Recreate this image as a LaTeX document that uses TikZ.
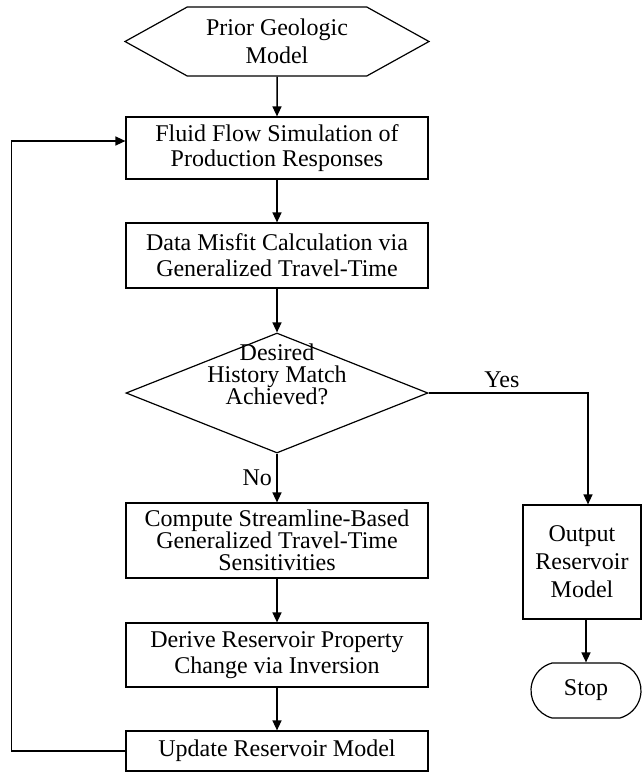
\documentclass[tikz,border=0pt]{standalone}
\usepackage{fontspec}
\setmainfont{Liberation Serif}
\usetikzlibrary{shapes.geometric,shapes.misc,shapes.symbols,arrows.meta,positioning}

\begin{document}
\begin{tikzpicture}[x=1pt, y=-1pt,
    block/.style={draw, line width=1.2pt, align=center, inner sep=0pt},
    flow/.style={line width=1.5pt, -{Triangle[length=10pt, width=9pt]}},
    txt/.style={font=\fontsize{24}{#1}\selectfont},
    txt/.default=26]
    \useasboundingbox (0,0) rectangle (642,772);

    % main column
    \node[block, signal, signal to=west and east, signal pointer angle=58,
          minimum width=304pt, minimum height=69pt, txt=28] (prior) at (277,41.5) {Prior Geologic\\Model};
    \node[block, minimum width=302pt, minimum height=62pt, txt=25] (sim) at (277,148) {Fluid Flow Simulation of\\Production Responses};
    \node[block, minimum width=302pt, minimum height=65pt, txt] (misfit) at (277,255.5) {Data Misfit Calculation via\\Generalized Travel-Time};
    \node[block, diamond, minimum width=302pt, minimum height=120pt,
          label={[txt=22, align=center, yshift=19pt]center:Desired\\History Match\\Achieved?}] (check) at (277,393) {};
    \node[block, minimum width=302pt, minimum height=75pt, txt=22] (sens) at (277,540.5) {Compute Streamline-Based\\Generalized Travel-Time\\Sensitivities};
    \node[block, minimum width=302pt, minimum height=64pt, txt] (derive) at (277,655) {Derive Reservoir Property\\Change via Inversion};
    \node[block, minimum width=302pt, minimum height=40pt, txt] (update) at (277,751) {Update Reservoir Model};

    % exit branch
    \node[block, minimum width=118pt, minimum height=114pt, txt=28] (out) at (582,562) {Output\\Reservoir\\Model};
    \node[block, rounded rectangle, rounded rectangle arc length=150, minimum width=110pt, minimum height=55pt, txt] (stop) at (586,690.5) {Stop};

    % connectors
    \draw[flow] (prior) -- (sim);
    \draw[flow] (sim) -- (misfit);
    \draw[flow] (misfit) -- (check);
    \draw[flow] (check) -- node[left=1pt, txt] (no) {No} (sens);
    \draw[flow] (check.east) -| node[pos=0.23, above=1pt, txt] (yes) {Yes} ([xshift=6pt]out.north);
    \draw[flow] (sens) -- (derive);
    \draw[flow] (derive) -- (update);
    \draw[flow] (stop.north |- out.south) -- (stop.north);
    \draw[flow] (update.west) -- ++(-114,0) |- ([yshift=7pt]sim.west); % loop back
\end{tikzpicture}
\end{document}
